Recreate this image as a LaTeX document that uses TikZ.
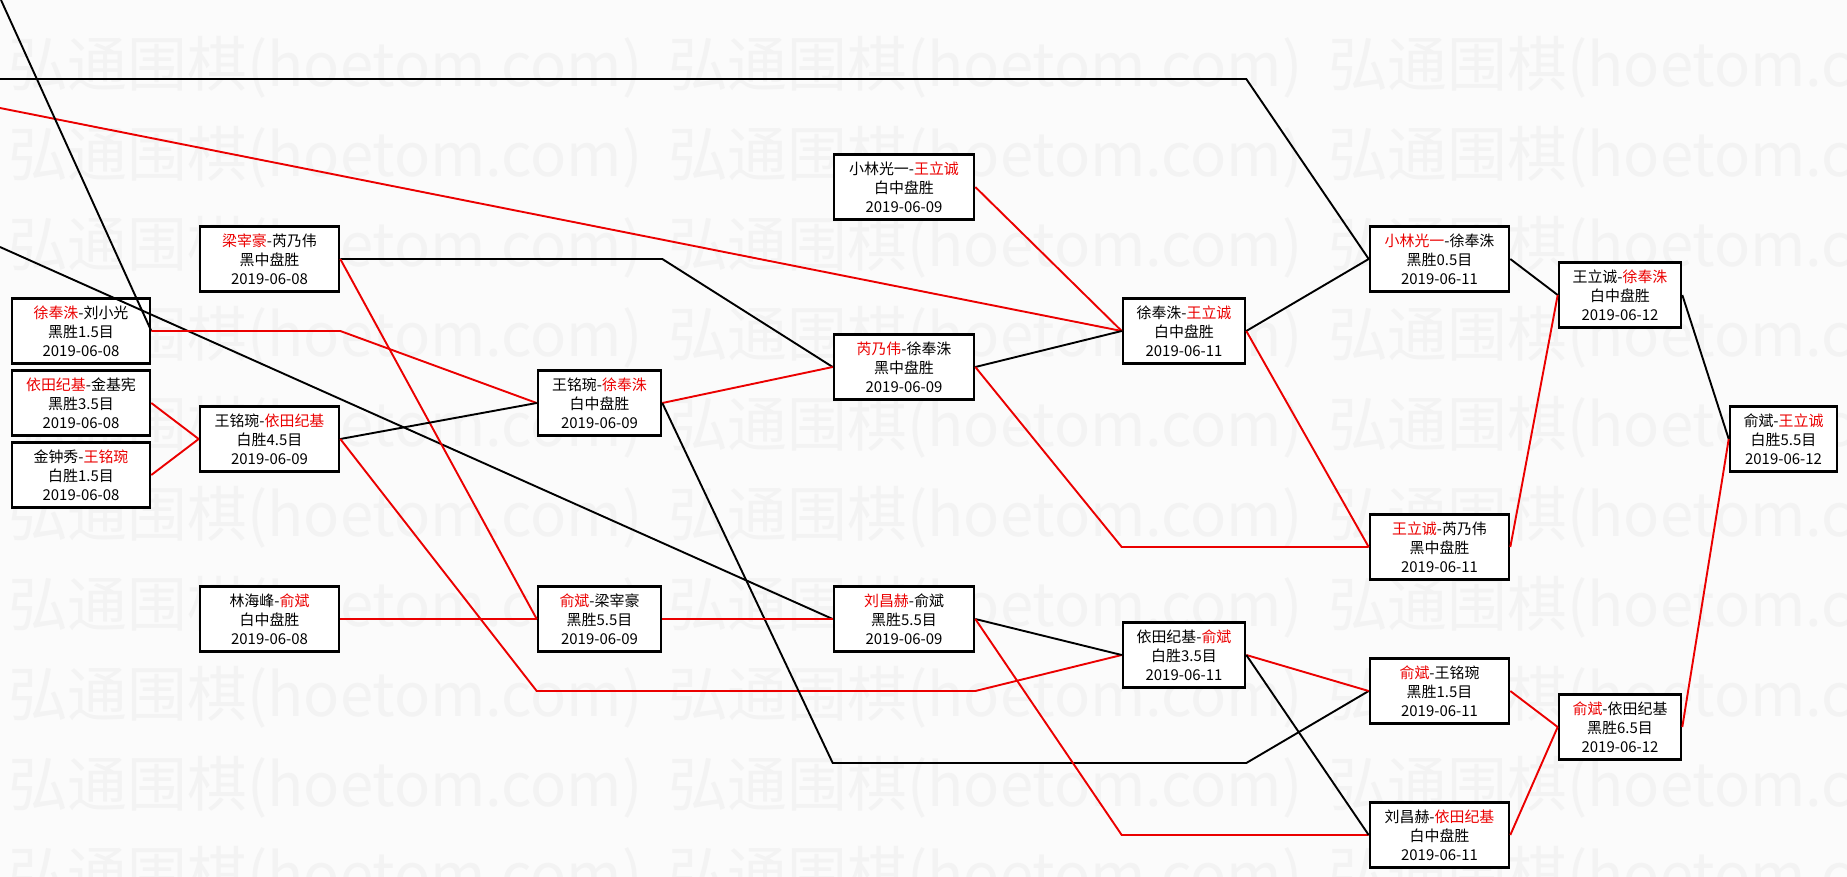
\documentclass[tikz,border=0pt]{standalone}
\usepackage{fontspec}
\setmainfont{Noto Sans CJK SC}
\definecolor{winred}{RGB}{235,0,0}
\definecolor{paper}{RGB}{251,251,251}
\definecolor{wmgray}{RGB}{243,243,243}
\newcommand{\redname}[1]{\textcolor{winred}{#1}}

\begin{document}
\begin{tikzpicture}[x=1bp, y=-1bp]
\def\cA{81}       % column centres
\def\cB{269.5}
\def\cC{599.5}
\def\cD{904}
\def\cE{1184}
\def\cF{1439.5}
\def\cG{1620}
\def\cH{1783.5}
\tikzset{
  game/.style={draw, line width=2.6bp, fill=white, align=center, inner sep=0pt,
    minimum height=65bp, font=\fontsize{15}{19}\selectfont},
  winline/.style={line width=1.9bp, draw=winred},
  loseline/.style={line width=1.9bp, draw=black},
  wmark/.style={font=\fontsize{60}{60}\selectfont, text=wmgray, inner sep=0pt, anchor=west},
}

% ---- canvas and watermark ----
\fill[paper] (0,0) rectangle (1847,877);
\useasboundingbox (0,0) rectangle (1847,877);
\begin{scope}
  \clip (0,0) rectangle (1847,877);
  \foreach \r in {0,...,9}{ \foreach \c in {0,1,2}{
      \node[wmark] (wm\r\c) at (8+660*\c, 67+90*\r) {弘通围棋(hoetom.com)};
  }}
\end{scope}

% =====================================================================
% Games, column by column
% =====================================================================
\node[game, minimum width=138bp] (r1a) at (\cA,331) {\redname{徐奉洙}-刘小光\\黑胜1.5目\\2019-06-08};
\node[game, minimum width=138bp] (r1b) at (\cA,403) {\redname{依田纪基}-金基宪\\黑胜3.5目\\2019-06-08};
\node[game, minimum width=138bp] (r1c) at (\cA,475) {金钟秀-\redname{王铭琬}\\白胜1.5目\\2019-06-08};

\node[game, minimum width=139bp] (r2a) at (\cB,259) {\redname{梁宰豪}-芮乃伟\\黑中盘胜\\2019-06-08};
\node[game, minimum width=139bp] (r2b) at (\cB,439) {王铭琬-\redname{依田纪基}\\白胜4.5目\\2019-06-09};
\node[game, minimum width=139bp] (r2c) at (\cB,619) {林海峰-\redname{俞斌}\\白中盘胜\\2019-06-08};

\node[game, minimum width=123bp] (r3a) at (\cC,403) {王铭琬-\redname{徐奉洙}\\白中盘胜\\2019-06-09};
\node[game, minimum width=123bp] (r3b) at (\cC,619) {\redname{俞斌}-梁宰豪\\黑胜5.5目\\2019-06-09};

\node[game, minimum width=140bp] (r4a) at (\cD,187) {小林光一-\redname{王立诚}\\白中盘胜\\2019-06-09};
\node[game, minimum width=140bp] (r4b) at (\cD,367) {\redname{芮乃伟}-徐奉洙\\黑中盘胜\\2019-06-09};
\node[game, minimum width=140bp] (r4c) at (\cD,619) {\redname{刘昌赫}-俞斌\\黑胜5.5目\\2019-06-09};

\node[game, minimum width=122bp] (r5a) at (\cE,331) {徐奉洙-\redname{王立诚}\\白中盘胜\\2019-06-11};
\node[game, minimum width=122bp] (r5b) at (\cE,655) {依田纪基-\redname{俞斌}\\白胜3.5目\\2019-06-11};

\node[game, minimum width=139bp] (r6a) at (\cF,259) {\redname{小林光一}-徐奉洙\\黑胜0.5目\\2019-06-11};
\node[game, minimum width=139bp] (r6b) at (\cF,547) {\redname{王立诚}-芮乃伟\\黑中盘胜\\2019-06-11};
\node[game, minimum width=139bp] (r6c) at (\cF,691) {\redname{俞斌}-王铭琬\\黑胜1.5目\\2019-06-11};
\node[game, minimum width=139bp] (r6d) at (\cF,835) {刘昌赫-\redname{依田纪基}\\白中盘胜\\2019-06-11};

\node[game, minimum width=122bp] (r7a) at (\cG,295) {王立诚-\redname{徐奉洙}\\白中盘胜\\2019-06-12};
\node[game, minimum width=122bp] (r7b) at (\cG,727) {\redname{俞斌}-依田纪基\\黑胜6.5目\\2019-06-12};

\node[game, minimum width=107bp] (r8) at (\cH,439) {俞斌-\redname{王立诚}\\白胜5.5目\\2019-06-12};

% ---- loose ends coming in from the left ----
\coordinate (inA) at (0,79);
\coordinate (inB) at (0,108);
\coordinate (inC) at (1,0);
\coordinate (inD) at (0,247);
\coordinate (low) at (0,763);

% =====================================================================
% Connectors
% =====================================================================
\draw[loseline] (inA) -- (inA -| r5a.east) -- (r6a.west);
\draw[winline] (inB) -- (r5a.west);
\draw[loseline] (inC) -- (r1a.east);
\draw[loseline] (inD) -- (r4c.west);

\draw[winline] (r1a.east) -- (r1a.east -| r2a.east) -- (r3a.west);
\draw[winline] (r1b.east) -- (r2b.west);
\draw[winline] (r1c.east) -- (r2b.west);

\draw[loseline] (r2a.east) -- (r2a.east -| r3a.east) -- (r4b.west);
\draw[winline] (r2a.east) -- (r3b.west);
\draw[loseline] (r2b.east) -- (r3a.west);
\draw[winline] (r2b.east) -- (r3b.west |- r6c.west) -- (r4c.east |- r6c.west) -- (r5b.west);
\draw[winline] (r2c.east) -- (r3b.west);

\draw[winline] (r3a.east) -- (r4b.west);
\draw[loseline] (r3a.east) -- (r4c.west |- low) -- (r5b.east |- low) -- (r6c.west);
\draw[winline] (r3b.east) -- (r4c.west);

\draw[winline] (r4a.east) -- (r5a.west);
\draw[loseline] (r4b.east) -- (r5a.west);
\draw[winline] (r4b.east) -- (r5a.west |- r6b.west) -- (r6b.west);
\draw[loseline] (r4c.east) -- (r5b.west);
\draw[winline] (r4c.east) -- (r5b.west |- r6d.west) -- (r6d.west);

\draw[loseline] (r5a.east) -- (r6a.west);
\draw[winline] (r5a.east) -- (r6b.west);
\draw[winline] (r5b.east) -- (r6c.west);
\draw[loseline] (r5b.east) -- (r6d.west);

\draw[loseline] (r6a.east) -- (r7a.west);
\draw[winline] (r6b.east) -- (r7a.west);
\draw[winline] (r6c.east) -- (r7b.west);
\draw[winline] (r6d.east) -- (r7b.west);

\draw[loseline] (r7a.east) -- (r8.west);
\draw[winline] (r7b.east) -- (r8.west);

\end{tikzpicture}
\end{document}
